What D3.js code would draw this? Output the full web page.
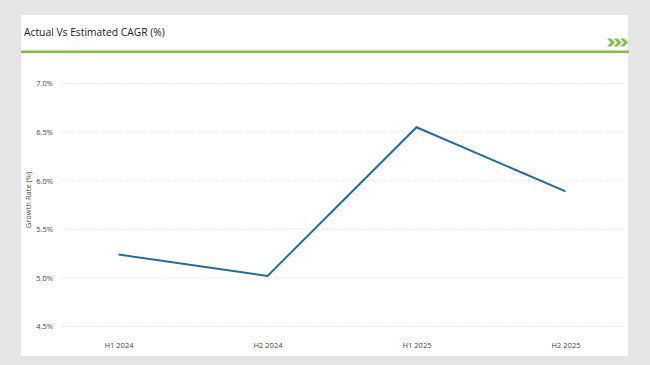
<!DOCTYPE html>
<html><head><meta charset="utf-8">
<script src="https://cdn.jsdelivr.net/npm/d3@7"></script>
<style>html,body{margin:0;padding:0;background:#e6e6e6;}svg{display:block;}</style>
</head><body>
<svg id="c" width="650" height="365"></svg>
<script>
const categories = ["H1 2024", "H2 2024", "H1 2025", "H2 2025"];
const growthValues = [5.24, 5.02, 6.55, 5.89];
const yTicks = [4.5, 5.0, 5.5, 6.0, 6.5, 7.0];
const chartTitle = "Actual Vs Estimated CAGR (%)";
const yAxisTitle = "Growth Rate (%)";

const svg = d3.select("#c");
svg.append("rect").attr("width",650).attr("height",365).attr("fill","#e6e6e6");
svg.append("rect").attr("x",21).attr("y",15).attr("width",607).attr("height",341).attr("fill","#ffffff");
svg.append("rect").attr("x",21).attr("y",50.5).attr("width",608).attr("height",2.5).attr("fill","#7dc142");
svg.append("text").attr("x",24).attr("y",36).text(chartTitle)
  .attr("font-family","'Open Sans', 'Noto Sans', sans-serif").attr("font-size",10.3).attr("fill","#222");
// chevrons
const chev = svg.append("g").attr("fill","#7dc142");
[607,613.5,620].forEach(x=>{
  chev.append("path").attr("d",`M${x},38.5 L${x+4},38.5 L${x+8},42.5 L${x+4},46.5 L${x},46.5 L${x+4},42.5 Z`);
});

const x = d3.scalePoint().domain(categories).range([44,640]).padding(0.5);
const y = d3.scaleLinear().domain([4.5,7.0]).range([326.5,83.5]);

const grid = svg.append("g");
grid.selectAll("line").data(yTicks).join("line")
  .attr("x1",60).attr("x2",624).attr("y1",d=>y(d)).attr("y2",d=>y(d))
  .attr("stroke","#e4e4e4").attr("stroke-width",0.8).attr("stroke-dasharray","2,1");

const yAxis = svg.append("g").attr("transform","translate(56,0)")
  .call(d3.axisLeft(y).tickValues(yTicks).tickSize(0).tickPadding(3).tickFormat(d=>d.toFixed(1)+"%"));
yAxis.select(".domain").remove();
yAxis.selectAll("text").attr("font-family","'Open Sans', 'Noto Sans', sans-serif").attr("font-size",7.5).attr("fill","#444");

const xAxis = svg.append("g").attr("transform","translate(0,340)")
  .call(d3.axisBottom(x).tickSize(0).tickPadding(3));
xAxis.select(".domain").remove();
xAxis.selectAll("text").attr("font-family","'Open Sans', 'Noto Sans', sans-serif").attr("font-size",7.5).attr("fill","#444");

svg.append("text").attr("transform","translate(31,200) rotate(-90)").attr("text-anchor","middle")
  .text(yAxisTitle).attr("font-family","'Open Sans', 'Noto Sans', sans-serif").attr("font-size",7.5).attr("fill","#444");

const line = d3.line().x((d,i)=>x(categories[i])).y(d=>y(d));
svg.append("path").datum(growthValues).attr("d",line).attr("fill","none")
  .attr("stroke","#1f6a9e").attr("stroke-width",2).attr("stroke-linejoin","miter");
</script>
</body></html>
